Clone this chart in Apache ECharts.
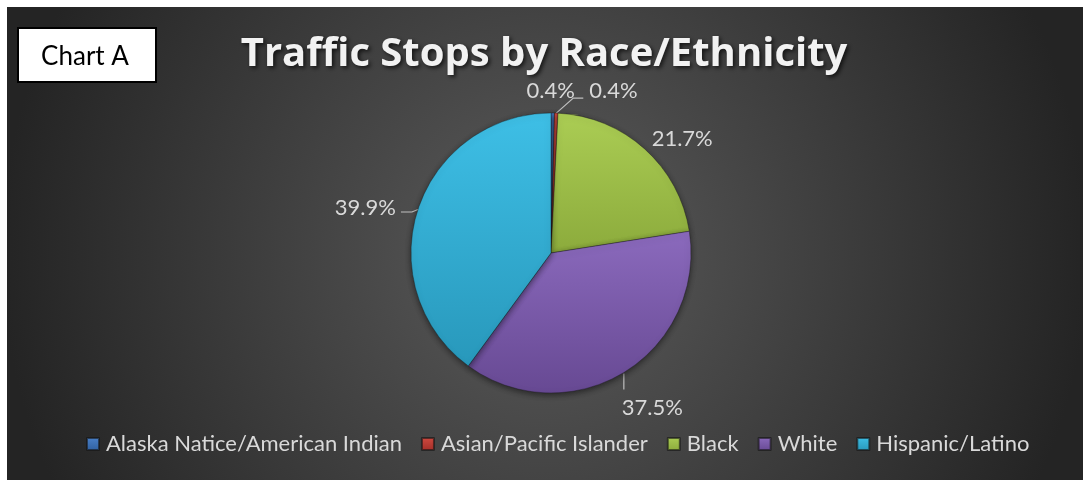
<!DOCTYPE html>
<html>
<head>
<meta charset="utf-8">
<style>
  html, body { margin: 0; padding: 0; background: #ffffff; }
  #chart { width: 1088px; height: 482px; }
</style>
<script src="https://cdn.jsdelivr.net/npm/echarts@6/dist/echarts.min.js"></script>
</head>
<body>
<div id="chart"></div>
<script>
const categories = ['Alaska Natice/American Indian', 'Asian/Pacific Islander', 'Black', 'White', 'Hispanic/Latino'];
const values = [0.4, 0.4, 21.7, 37.5, 39.9];
const titleText = 'Traffic Stops by Race/Ethnicity';
const boxText = 'Chart A';

const palette = [
  ['#4a80c8', '#2f5f9e'],
  ['#d04a40', '#a32e28'],
  ['#abcd54', '#8cab3c'],
  ['#8b6abd', '#674993'],
  ['#3ebfe6', '#2898bb']
];

function grad(c) {
  return new echarts.graphic.LinearGradient(0, 0, 0, 1, [
    { offset: 0, color: c[0] },
    { offset: 1, color: c[1] }
  ]);
}

// Label placement relative to each slice's edge point (Excel-like callouts)
function placeLabel(params) {
  const pts = params.labelLinePoints;
  if (!pts || !pts.length) return {};
  const p = pts[0];
  const i = params.dataIndex;
  if (i === 0) {
    return { x: p[0] - 2, y: p[1] - 22, align: 'center', verticalAlign: 'middle' };
  }
  if (i === 1) {
    return {
      x: p[0] + 33, y: p[1] - 22, align: 'left', verticalAlign: 'middle',
      labelLinePoints: [p, [p[0] + 17, p[1] - 15], [p[0] + 27, p[1] - 15]]
    };
  }
  if (i === 2) {
    return { x: p[0] + 7, y: p[1] - 10, align: 'left', verticalAlign: 'middle' };
  }
  if (i === 3) {
    return {
      x: p[0] - 2, y: p[1] + 35, align: 'left', verticalAlign: 'middle',
      labelLinePoints: [[p[0], p[1] + 1], [p[0], p[1] + 9], [p[0], p[1] + 17]]
    };
  }
  return {
    x: p[0] - 22, y: p[1] - 2, align: 'right', verticalAlign: 'middle',
    labelLinePoints: [p, [p[0] - 6, p[1] + 2.5], [p[0] - 17, p[1] + 2.5]]
  };
}

const chart = echarts.init(document.getElementById('chart'), null, { renderer: 'canvas' });

const option = {
  animation: false,
  backgroundColor: '#ffffff',
  title: {
    text: titleText,
    left: 'center',
    top: 30,
    textStyle: {
      fontFamily: 'Open Sans',
      fontWeight: 'bold',
      fontSize: 40,
      color: '#f2f2f2',
      textShadowColor: 'rgba(0,0,0,0.7)',
      textShadowBlur: 4,
      textShadowOffsetX: 2,
      textShadowOffsetY: 2
    }
  },
  legend: {
    top: 428,
    left: 81,
    itemWidth: 12,
    itemHeight: 12,
    itemGap: 19,
    icon: 'rect',
    textStyle: { color: '#d9d9d9', fontFamily: 'Lato', fontSize: 22, padding: [0, 0, 0, 2] },
    data: categories
  },
  graphic: [
    {
      type: 'rect',
      z: -10,
      silent: true,
      shape: { x: 7, y: 7, width: 1076, height: 473 },
      style: {
        fill: new echarts.graphic.RadialGradient(0.5, 0.52, 1.15, [
          { offset: 0, color: '#5b5b5b' },
          { offset: 1, color: '#242424' }
        ])
      }
    },
    {
      type: 'group',
      left: 17,
      top: 27,
      children: [
        {
          type: 'rect',
          shape: { x: 0, y: 0, width: 138, height: 54 },
          style: { fill: '#ffffff', stroke: '#000000', lineWidth: 2 }
        },
        {
          type: 'text',
          x: 67,
          y: 29,
          style: {
            text: boxText,
            fill: '#000000',
            font: '26px Lato',
            align: 'center',
            verticalAlign: 'middle'
          }
        }
      ]
    }
  ],
  series: [
    {
      type: 'pie',
      center: [551, 253],
      radius: 140,
      startAngle: 90,
      clockwise: true,
      avoidLabelOverlap: false,
      itemStyle: {
        borderColor: 'rgba(20,20,20,0.6)',
        borderWidth: 0.6,
        shadowColor: 'rgba(0,0,0,0.5)',
        shadowBlur: 6,
        shadowOffsetY: 2
      },
      label: {
        show: true,
        position: 'outside',
        color: '#d9d9d9',
        fontFamily: 'Lato',
        fontSize: 22,
        formatter: p => p.value.toFixed(1) + '%'
      },
      labelLine: {
        show: true,
        length: 12,
        length2: 10,
        lineStyle: { color: '#bfbfbf', width: 1.2 }
      },
      labelLayout: placeLabel,
      data: categories.map((n, i) => ({
        name: n,
        value: values[i],
        itemStyle: { color: grad(palette[i]) },
        labelLine: { show: i === 1 || i === 3 || i === 4 }
      }))
    }
  ]
};
chart.setOption(option);
</script>
</body>
</html>
